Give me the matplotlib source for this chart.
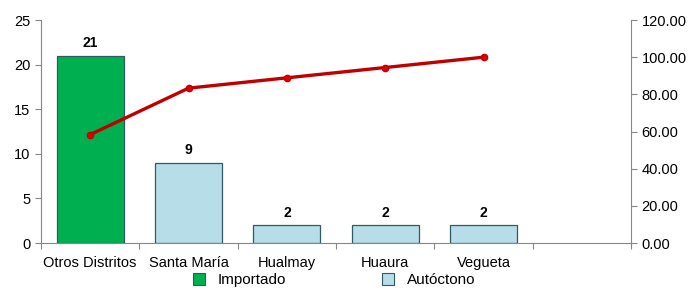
import matplotlib
matplotlib.use("Agg")
import matplotlib.pyplot as plt
import numpy as np
from matplotlib.patches import Patch

plt.rcParams["font.family"] = ["Liberation Sans", "DejaVu Sans"]

districts = ["Otros Distritos", "Santa María", "Hualmay", "Huaura", "Vegueta"]
cases = [21, 9, 2, 2, 2]
cumulative_pct = [58.33, 83.33, 88.89, 94.44, 100.00]
bar_colors = ["#00B050", "#B7DDE8", "#B7DDE8", "#B7DDE8", "#B7DDE8"]

fig = plt.figure(figsize=(6.89, 2.93), dpi=100)
ax = fig.add_axes([0.0595, 0.1706, 0.8565, 0.7611])
x = np.arange(len(districts))

ax.bar(x, cases, width=0.68, color=bar_colors, edgecolor="#31595F", linewidth=0.9, zorder=2)
for xi, v in zip(x, cases):
    ax.text(xi, v + 0.6, str(v), ha="center", va="bottom", fontsize=10, fontweight="bold")

ax.set_xlim(-0.5, 5.5)
ax.set_ylim(0, 25)
ax.set_yticks(range(0, 26, 5))
ax.set_xticks(np.arange(-0.5, 6.0, 1.0))
ax.set_xticklabels([])
ax.set_xticks(x, minor=True)
ax.set_xticklabels(districts, minor=True)
ax.tick_params(axis="x", which="minor", length=0, labelsize=10.5, pad=9)
ax.tick_params(axis="x", which="major", length=4, direction="out", color="#868686")
ax.tick_params(axis="y", length=4, color="#868686", labelsize=10.5)
for s in ["top", "right"]:
    ax.spines[s].set_visible(False)
ax.spines["left"].set_color("#868686")
ax.spines["bottom"].set_color("#868686")

ax2 = ax.twinx()
ax2.plot(x, cumulative_pct, color="#C00000", linewidth=2.4, marker="o", markersize=4.5,
         markerfacecolor="#E00000", markeredgecolor="#C00000", zorder=3)
ax2.set_ylim(0, 120)
ax2.set_yticks(range(0, 121, 20))
ax2.set_yticklabels([f"{v:.2f}" for v in range(0, 121, 20)])
ax2.tick_params(axis="y", length=4, color="#868686", labelsize=10.5)
for s in ["top", "left", "bottom"]:
    ax2.spines[s].set_visible(False)
ax2.spines["right"].set_color("#868686")

handles = [Patch(facecolor="#00B050", edgecolor="#31595F", linewidth=0.8),
           Patch(facecolor="#B7DDE8", edgecolor="#31595F", linewidth=0.8)]
fig.legend(handles, ["Importado", "Autóctono"], loc="center", bbox_to_anchor=(0.485, 0.044),
           ncol=2, frameon=False, fontsize=11, handlelength=0.8, handleheight=0.8,
           columnspacing=6.3, handletextpad=0.8)

fig.savefig("out.png", dpi=100)
